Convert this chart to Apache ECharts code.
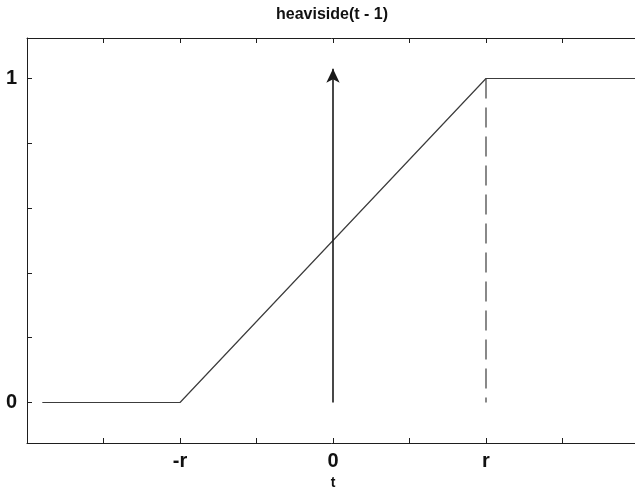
<!DOCTYPE html>
<html>
<head>
<meta charset="utf-8">
<script src="https://cdn.jsdelivr.net/npm/echarts@6/dist/echarts.min.js"></script>
<style>
  html, body { margin: 0; padding: 0; background: #ffffff; }
  #chart { width: 635px; height: 487px; }
</style>
</head>
<body>
<div id="chart"></div>
<script>
// Unit ramp between -r and r (r = 1), flat at 0 before and at 1 after
const tValues = [-1.9, -1, 1, 2];
const rampValues = [0, 0, 1, 1];

// Impulse arrow at t = 0 and the dashed marker at t = r
const impulseT = 0;
const impulseFrom = 0;
const impulseTo = 1.03;
const markerT = 1;
const markerFrom = 1;
const markerTo = 0;

// Axis ticks and their labels
const xTicks = [-2, -1.5, -1, -0.5, 0, 0.5, 1, 1.5, 2];
const xTickLabels = { '-1': '-r', '0': '0', '1': 'r' };
const yTicks = [0, 0.2, 0.4, 0.6, 0.8, 1];
const yLabelTicks = [0, 1];
const titleText = 'heaviside(t - 1)';

const FONT = '"Liberation Sans", Arial, Helvetica, sans-serif';
const AXIS_COLOR = '#1e1e1e';

const chart = echarts.init(document.getElementById('chart'), null, { renderer: 'canvas' });

const rampData = tValues.map((t, i) => [t, rampValues[i]]);

chart.setOption({
  backgroundColor: '#ffffff',
  animation: false,
  graphic: [{
    type: 'text',
    x: 332,
    y: 7,
    silent: true,
    style: {
      text: titleText,
      align: 'center',
      verticalAlign: 'top',
      font: 'bold 16px ' + FONT,
      fill: '#111'
    }
  }],
  grid: { left: 27, top: 38, width: 612, height: 405, containLabel: false, outerBoundsMode: 'none' },
  xAxis: [{
    type: 'value',
    min: -2,
    max: 2,
    interval: 0.5,
    name: 't',
    nameLocation: 'middle',
    nameGap: 30,
    nameTextStyle: { fontFamily: FONT, fontSize: 14, fontWeight: 'bold', color: '#111' },
    axisLine: { show: true, onZero: false, lineStyle: { color: AXIS_COLOR, width: 1 } },
    axisTick: { show: true, inside: true, length: 5, customValues: xTicks, lineStyle: { color: AXIS_COLOR } },
    axisLabel: {
      show: true,
      margin: 8,
      fontFamily: FONT,
      fontSize: 20,
      fontWeight: 'bold',
      color: '#111',
      customValues: [-1, 0, 1],
      formatter: v => xTickLabels[String(v)] || ''
    },
    splitLine: { show: false }
  }, {
    type: 'value',
    position: 'top',
    min: -2,
    max: 2,
    interval: 0.5,
    axisLine: { show: true, onZero: false, lineStyle: { color: AXIS_COLOR, width: 1 } },
    axisTick: { show: true, inside: true, length: 5, customValues: xTicks, lineStyle: { color: AXIS_COLOR } },
    axisLabel: { show: false },
    splitLine: { show: false }
  }],
  yAxis: {
    type: 'value',
    min: -0.125,
    max: 1.125,
    axisLine: { show: true, onZero: false, lineStyle: { color: AXIS_COLOR, width: 1 } },
    axisTick: { show: true, inside: true, length: 5, customValues: yTicks, lineStyle: { color: AXIS_COLOR } },
    axisLabel: {
      show: true,
      margin: 10,
      fontFamily: FONT,
      fontSize: 20,
      fontWeight: 'bold',
      color: '#111',
      customValues: yLabelTicks,
      formatter: v => String(v)
    },
    splitLine: { show: false }
  },
  series: [{
    type: 'line',
    name: 'ramp',
    data: rampData,
    showSymbol: false,
    symbol: 'none',
    lineStyle: { color: '#3c3c3c', width: 1.2 },
    silent: true,
    z: 3
  }, {
    type: 'line',
    name: 'marker',
    data: [[markerT, markerFrom], [markerT, markerTo]],
    symbol: 'none',
    lineStyle: { color: '#3a3a3a', width: 1.2, type: [20, 9] },
    silent: true,
    z: 2
  }, {
    type: 'line',
    name: 'impulse',
    data: [],
    symbol: 'none',
    silent: true,
    markLine: {
      silent: true,
      symbol: ['none', 'arrow'],
      symbolSize: [10, 14],
      label: { show: false },
      lineStyle: { color: '#1a1a1a', width: 1.6, type: 'solid' },
      data: [[{ coord: [impulseT, impulseFrom] }, { coord: [impulseT, impulseTo] }]]
    }
  }]
});
</script>
</body>
</html>
